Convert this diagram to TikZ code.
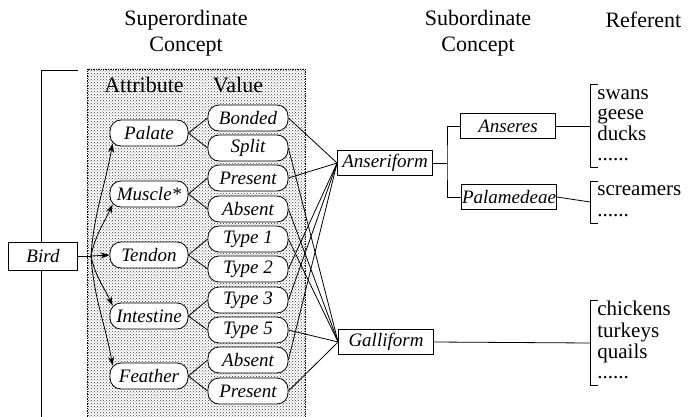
\documentclass[tikz,border=0pt]{standalone}
\usepackage{fontspec}
\setmainfont{Liberation Serif}
\usepackage{tikz}
\usetikzlibrary{arrows.meta,patterns,positioning}

\begin{document}
\begin{tikzpicture}[x=1pt,y=-1pt,>={Stealth[length=9pt,width=6pt]},line width=0.8pt,
  attr/.style={draw,rounded corners=11pt,fill=white,minimum width=78pt,minimum height=26pt,inner sep=0pt,font=\fontsize{19}{20}\selectfont\itshape},
  val/.style={attr,minimum width=80pt},
  concept/.style={draw,fill=white,minimum width=95pt,minimum height=25pt,inner sep=0pt,font=\fontsize{19}{20}\selectfont\itshape},
  head/.style={align=center,font=\fontsize{22}{26}\selectfont},
  referent/.style={anchor=west,align=left,inner xsep=7pt,inner ysep=0pt,font=\fontsize{21}{20.5}\selectfont}]

    \useasboundingbox (0,0) rectangle (688,417);

    % Headings
    \node [head] at (186,33) (hsup) {Superordinate\\Concept};
    \node [head] at (478,33) (hsub) {Subordinate\\Concept};
    \node [head,anchor=east] at (685,20) (href) {Referent};

    % The shaded block
    \fill [pattern=crosshatch dots,pattern color=black!75] (87,69) rectangle (305,417);
    \draw [densely dotted,line width=0.7pt] (87,417) -- (87,69) -- (305,69) -- (305,417);
    \node [head] at (144,85) (hattr) {Attribute};
    \node [head] at (238,85) (hval) {Value};

    % Bird and its bracket
    \draw (78,70) -- (41,70) -- (41,417);
    \node [concept,minimum width=69pt,minimum height=28pt] at (43,256) (bird) {Bird};
    \coordinate (fork) at (91,256);

    % Attributes
    \node [attr] at (149,133) (pal) {Palate};
    \node [attr] at (149,194) (mus) {Muscle*};
    \node [attr] at (149,255) (ten) {Tendon};
    \node [attr] at (149,316) (int) {Intestine};
    \node [attr] at (149,376) (fea) {Feather};

    % Values
    \node [val] at (248,118) (bon) {Bonded};
    \node [val] at (248,148) (spl) {Split};
    \node [val] at (248,178) (mpr) {Present};
    \node [val] at (248,209) (mab) {Absent};
    \node [val] at (248,239) (ty1) {Type 1};
    \node [val] at (248,269) (ty2) {Type 2};
    \node [val] at (248,300) (ty3) {Type 3};
    \node [val] at (248,330) (ty5) {Type 5};
    \node [val] at (248,360) (fab) {Absent};
    \node [val] at (248,391) (fpr) {Present};

    % Subordinate concepts
    \node [concept] at (385,163) (ans) {Anseriform};
    \node [concept] at (386,342) (gal) {Galliform};
    \node [concept] at (508,126) (anr) {Anseres};
    \node [concept] at (509,197) (plm) {Palamedeae};
    \coordinate (br) at (447,163);

    % Referents
    \node [referent] at (590,126) (ranr) {\strut swans\\geese\\ducks\\......\strut};
    \node [referent] at (590,202) (rplm) {\strut screamers\\......\strut};
    \node [referent] at (590,343) (rgal) {\strut chickens\\turkeys\\quails\\......\strut};

    % Arrows from Bird
    \draw (bird.east) -- (fork);
    \path[->]
    (fork) edge (ten.west)
    (fork) edge [out=86,in=-100] ([xshift=3pt,yshift=3pt]pal.south west)
    (fork) edge [out=78,in=-115] ([xshift=3pt,yshift=3pt]mus.south west)
    (fork) edge [out=-78,in=115] ([xshift=3pt,yshift=-3pt]int.north west)
    (fork) edge [out=-86,in=100] ([xshift=3pt,yshift=-3pt]fea.north west);

    % Attribute to value
    \path[-]
    (pal.east) edge (bon.west)
    (pal.east) edge (spl.west)
    (mus.east) edge (mpr.west)
    (mus.east) edge (mab.west)
    (ten.east) edge (ty1.west)
    (ten.east) edge (ty2.west)
    (int.east) edge (ty3.west)
    (int.east) edge (ty5.west)
    (fea.east) edge (fab.west)
    (fea.east) edge (fpr.west);

    % Value to concept
    \path[-]
    (bon.east) edge (ans.west)
    (mpr.east) edge (ans.west)
    (ty2.east) edge (ans.west)
    (ty3.east) edge (ans.west)
    (fab.east) edge (ans.west)
    (spl.east) edge (gal.west)
    (mab.east) edge (gal.west)
    (ty1.east) edge (gal.west)
    (ty5.east) edge (gal.west)
    (fpr.east) edge (gal.west);

    % Concept tree
    \draw (ans.east) -- (br);
    \draw (anr.west) -| (br) |- (plm.west);
    \draw (anr.east) -- (ranr.west);
    \draw (plm.east) -- (rplm.west);
    \draw (gal.east) -- (rgal.west);

    % Referent brackets
    \draw ([xshift=8pt]ranr.north west) -- (ranr.north west) -- (ranr.south west) -- ([xshift=8pt]ranr.south west);
    \draw ([xshift=8pt]rplm.north west) -- (rplm.north west) -- (rplm.south west) -- ([xshift=8pt]rplm.south west);
    \draw ([xshift=8pt]rgal.north west) -- (rgal.north west) -- (rgal.south west) -- ([xshift=8pt]rgal.south west);

\end{tikzpicture}
\end{document}
